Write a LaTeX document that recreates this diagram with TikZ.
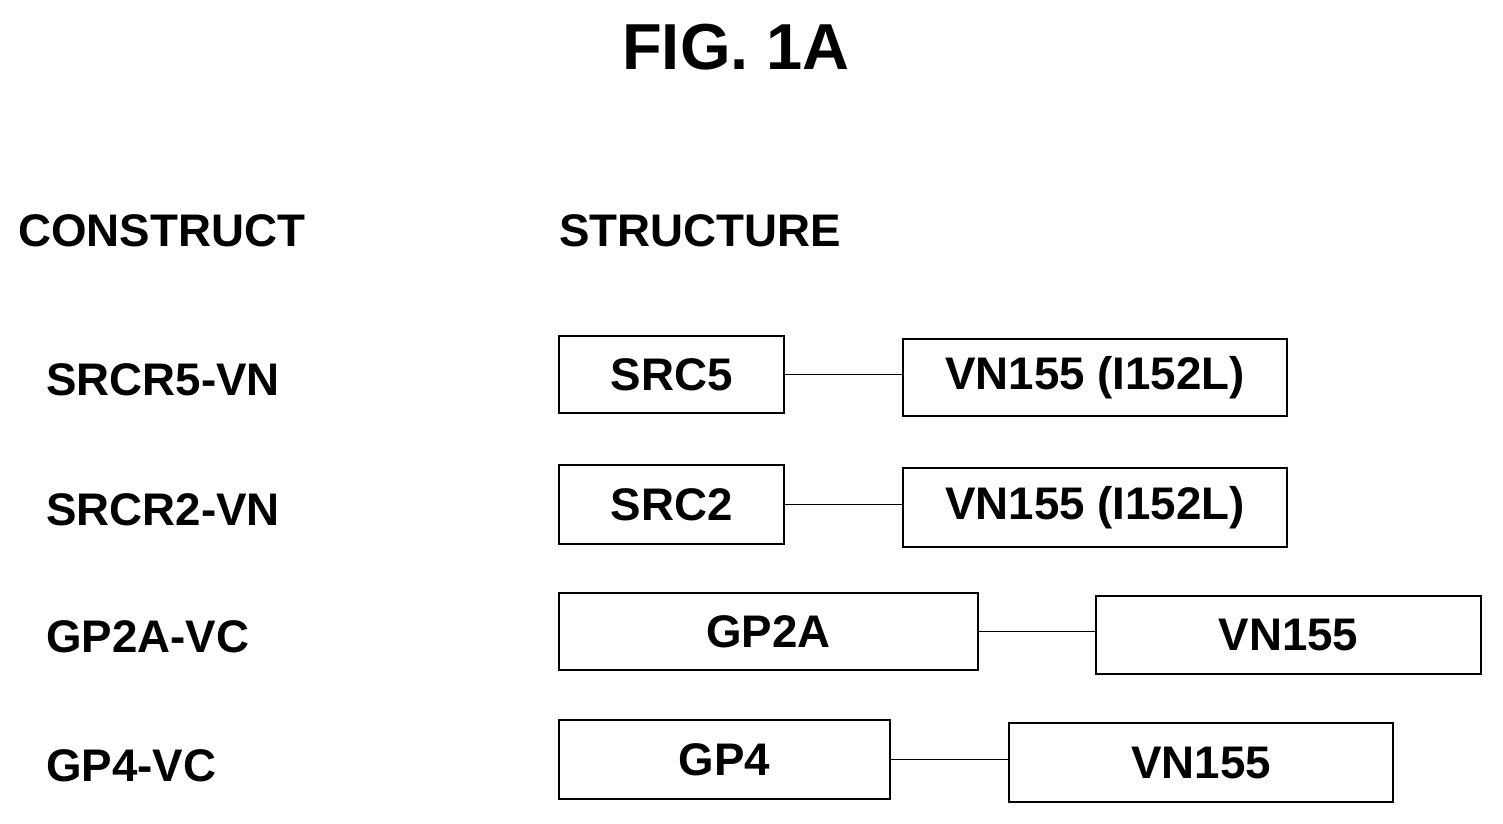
\documentclass[tikz,border=0pt]{standalone}
\usepackage{fontspec}
\setmainfont{Liberation Sans}
\begin{document}
\begin{tikzpicture}[x=0.02cm, y=-0.02cm,
    lbl/.style={font=\fontsize{26}{28}\selectfont\bfseries, anchor=west, inner sep=0pt},
    dom/.style={draw, thick, font=\fontsize{26}{28}\selectfont\bfseries, inner sep=0pt}]
    \useasboundingbox (0,0) rectangle (1503,824);

    \node[font=\fontsize{37}{40}\selectfont\bfseries] at (736,47) (title) {FIG. 1A};
    \node[lbl] at (18,231) (construct) {CONSTRUCT};
    \node[lbl] at (559,231) (structure) {STRUCTURE};

    \node[lbl] at (46,380) (c1) {SRCR5-VN};
    \node[lbl] at (46,510) (c2) {SRCR2-VN};
    \node[lbl] at (46,637) (c3) {GP2A-VC};
    \node[lbl] at (46,766) (c4) {GP4-VC};

    \node[dom, minimum width=4.5cm, minimum height=1.54cm] at (671.5,374.5) (src5) {SRC5};
    \node[dom, minimum width=7.68cm, minimum height=1.54cm] at (1095,377.5) (vn1) {VN155 (I152L)};
    \node[dom, minimum width=4.5cm, minimum height=1.58cm] at (671.5,504.5) (src2) {SRC2};
    \node[dom, minimum width=7.68cm, minimum height=1.58cm] at (1095,507.5) (vn2) {VN155 (I152L)};
    \node[dom, minimum width=8.38cm, minimum height=1.54cm] at (768.5,631.5) (gp2a) {GP2A};
    \node[dom, minimum width=7.7cm, minimum height=1.56cm] at (1288.5,635) (vn3) {VN155};
    \node[dom, minimum width=6.62cm, minimum height=1.58cm] at (724.5,759.5) (gp4) {GP4};
    \node[dom, minimum width=7.68cm, minimum height=1.58cm] at (1201,762.5) (vn4) {VN155};

    \draw[thick] (src5.east) -- (src5.east -| vn1.west);
    \draw[thick] (src2.east) -- (src2.east -| vn2.west);
    \draw[thick] (gp2a.east) -- (gp2a.east -| vn3.west);
    \draw[thick] (gp4.east) -- (gp4.east -| vn4.west);
\end{tikzpicture}
\end{document}
